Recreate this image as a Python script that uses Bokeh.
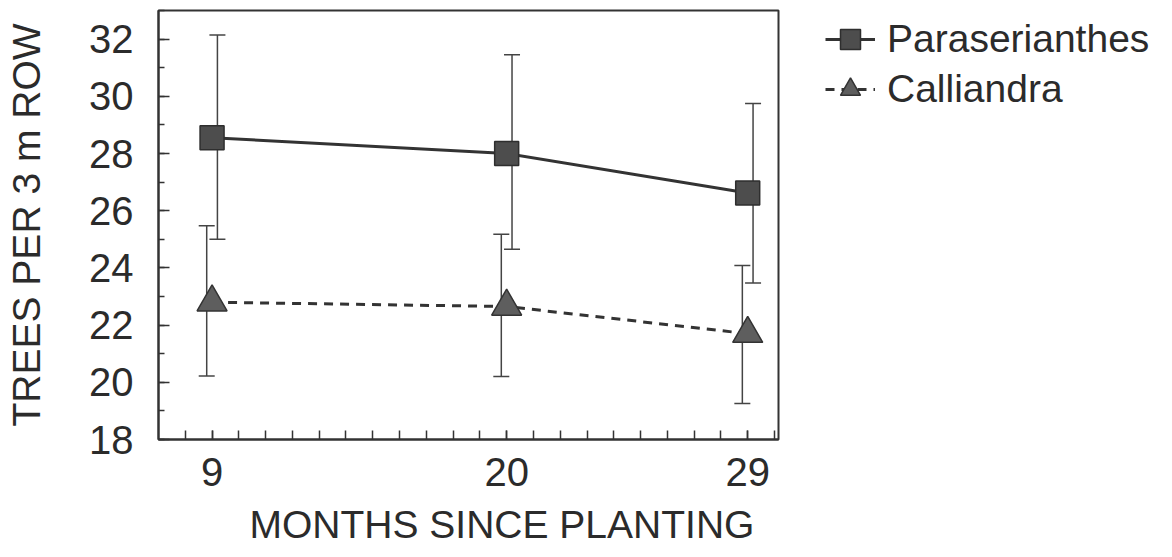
from bokeh.plotting import figure
from bokeh.models import (ColumnDataSource, Range1d, FixedTicker, Whisker, TeeHead,
                          Legend, LegendItem, Title)
from bokeh.layouts import row
from bokeh.transform import dodge
from bokeh.embed import file_html
from bokeh.resources import INLINE

# ---- data ----
months = [9, 20, 29]
month_ticks = [9, 20, 29]
month_minor_ticks = list(range(8, 31))
y_ticks = [18, 20, 22, 24, 26, 28, 30, 32]
y_minor_ticks = list(range(18, 34))

paraserianthes_mean = [28.55, 28.0, 26.62]
paraserianthes_upper = [32.14, 31.45, 29.75]
paraserianthes_lower = [25.0, 24.65, 23.47]

calliandra_mean = [22.8, 22.65, 21.7]
calliandra_upper = [25.47, 25.18, 24.08]
calliandra_lower = [20.22, 20.2, 19.26]

series_names = ["Paraserianthes", "Calliandra"]

FONT = "Liberation Sans"
TXT = "#2b2b2b"
DARK = "#333333"

src_p = ColumnDataSource(dict(x=months, y=paraserianthes_mean,
                              upper=paraserianthes_upper, lower=paraserianthes_lower))
src_c = ColumnDataSource(dict(x=months, y=calliandra_mean,
                              upper=calliandra_upper, lower=calliandra_lower))

p = figure(width=780, height=557, x_range=Range1d(7, 30.15), y_range=Range1d(18, 33),
           output_backend="svg", toolbar_location=None,
           min_border_left=158, min_border_right=2, min_border_top=10, min_border_bottom=0)
p.background_fill_color = "white"
p.border_fill_color = "white"
p.xgrid.visible = False
p.ygrid.visible = False
p.outline_line_color = DARK
p.outline_line_width = 2

# axes
p.xaxis.ticker = FixedTicker(ticks=month_ticks, minor_ticks=month_minor_ticks)
p.yaxis.ticker = FixedTicker(ticks=y_ticks, minor_ticks=y_minor_ticks)
for ax in (p.xaxis[0], p.yaxis[0]):
    ax.axis_line_color = DARK
    ax.axis_line_width = 2
    ax.major_tick_line_color = DARK
    ax.minor_tick_line_color = DARK
    ax.major_tick_line_width = 1.5
    ax.minor_tick_line_width = 1.5
    ax.major_tick_out = 0
    ax.minor_tick_out = 0
    ax.major_label_text_font = FONT
    ax.major_label_text_font_size = "40px"
    ax.major_label_text_color = TXT
    ax.axis_label_text_font = FONT
    ax.axis_label_text_font_style = "normal"
    ax.axis_label_text_color = TXT

p.xaxis.major_tick_in = 9
p.xaxis.minor_tick_in = 9
p.xaxis.major_label_standoff = 18
p.yaxis.major_tick_in = 11
p.yaxis.minor_tick_in = 6
p.yaxis.major_label_standoff = 25
p.yaxis.axis_label = "TREES PER 3 m ROW"
p.yaxis.axis_label_text_font_size = "39px"
p.yaxis.axis_label_standoff = 38

xt = Title(text="MONTHS SINCE PLANTING", align="left", offset=91,
           text_font=FONT, text_font_size="39px", text_font_style="normal",
           text_color=TXT, standoff=24)
p.add_layout(xt, "below")

# error bars (slightly dodged like the original)
for src, shift in ((src_p, 0.2), (src_c, -0.2)):
    w = Whisker(source=src, base=dodge("x", shift), upper="upper", lower="lower",
                line_color="#444444", line_width=1.5,
                upper_head=TeeHead(size=16, line_color="#444444", line_width=1.5),
                lower_head=TeeHead(size=16, line_color="#444444", line_width=1.5))
    p.add_layout(w)

line_p = dict(line_color=DARK, line_width=3)
line_c = dict(line_color=DARK, line_width=3, line_dash="9 7")
mark_p = dict(marker="square", size=24, fill_color="#4d4d4d", line_color="#2e2e2e", line_width=1.5)
mark_c = dict(marker="triangle", size=30, fill_color="#5e5e5e", line_color="#333333", line_width=1.5)

# lines and markers
p.line("x", "y", source=src_p, **line_p)
p.line("x", "y", source=src_c, **line_c)
p.scatter("x", "y", source=src_p, **mark_p)
p.scatter("x", "y", source=src_c, **mark_c)

# legend panel to the right of the plot (its renderers lie outside its view)
q = figure(width=392, height=557, x_range=Range1d(100, 101), y_range=Range1d(100, 101),
           output_backend="svg", toolbar_location=None,
           x_axis_location=None, y_axis_location=None,
           min_border_left=41, min_border_right=0, min_border_top=0, min_border_bottom=0)
q.xgrid.visible = False
q.ygrid.visible = False
q.outline_line_color = None
q.background_fill_color = "white"
q.border_fill_color = "white"
qlp = q.line("x", "y", source=src_p, **line_p)
qlc = q.line("x", "y", source=src_c, **line_c)
qsp = q.scatter("x", "y", source=src_p, **mark_p)
qsc = q.scatter("x", "y", source=src_c, **mark_c)

legend = Legend(items=[LegendItem(label=series_names[0], renderers=[qlp, qsp]),
                       LegendItem(label=series_names[1], renderers=[qlc, qsc])],
                location="top_left", padding=4, margin=0, spacing=0,
                glyph_width=50, glyph_height=50, label_height=45, label_standoff=12,
                label_text_font=FONT, label_text_font_size="39px", label_text_color=TXT,
                border_line_alpha=0, background_fill_alpha=0)
q.add_layout(legend)

layout = row(p, q, spacing=0)
open("out.html", "w").write(file_html(layout, INLINE))
